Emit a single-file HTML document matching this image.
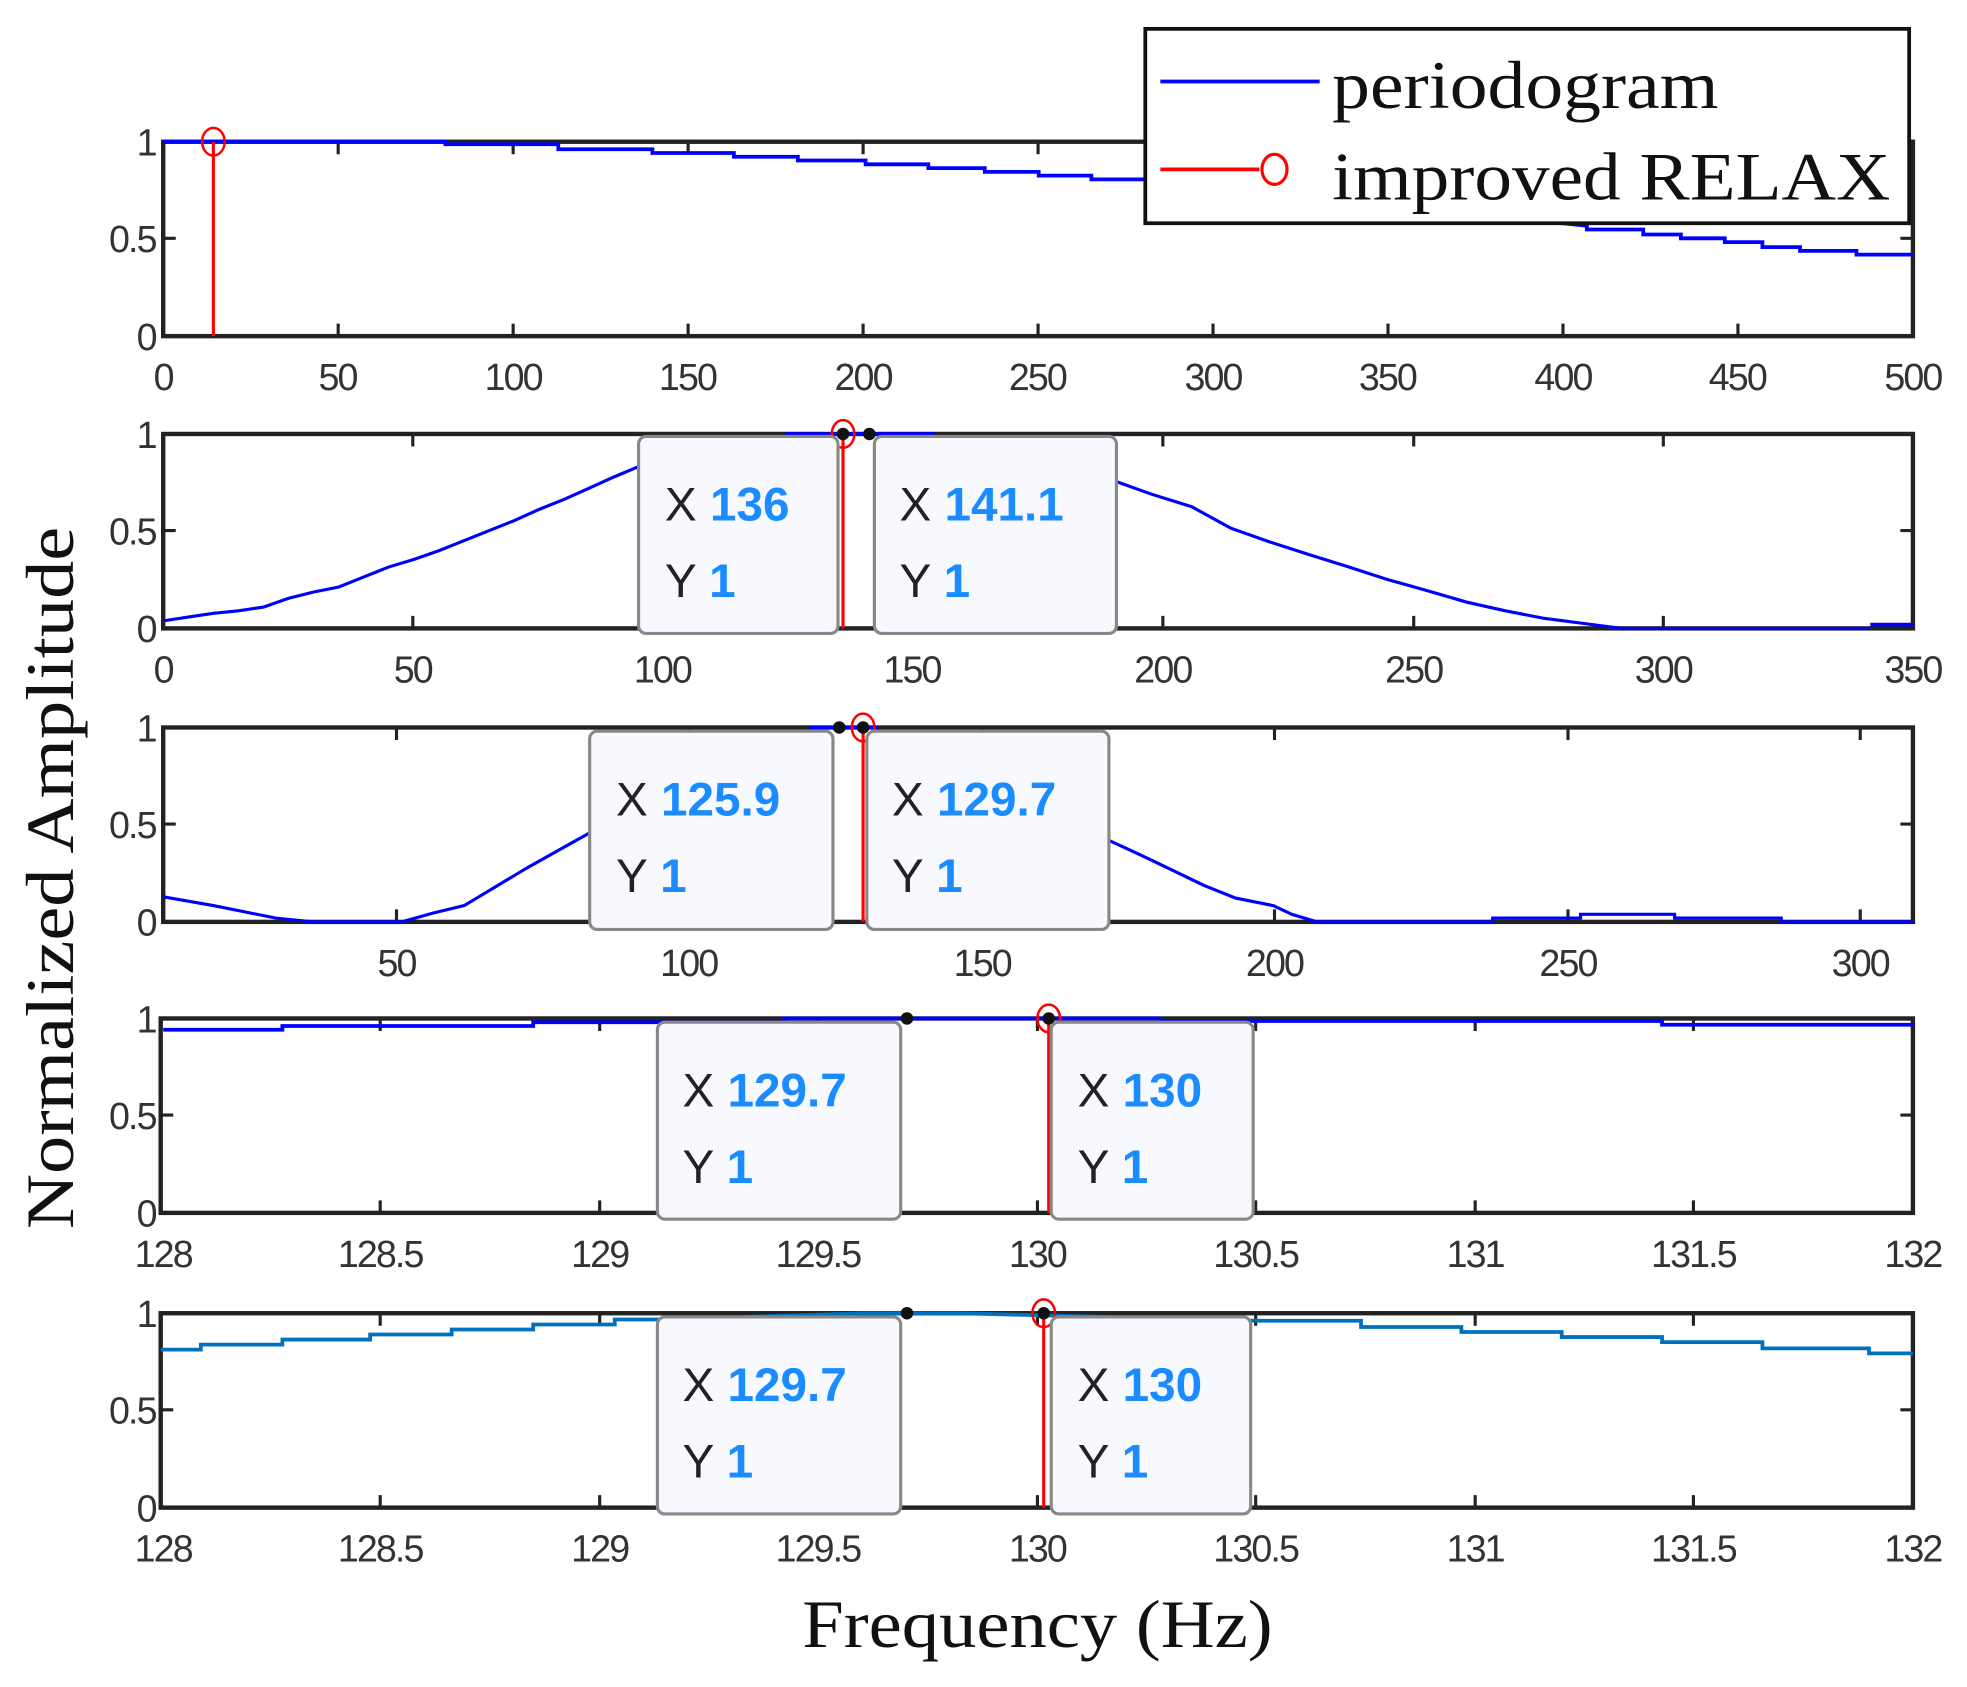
<!DOCTYPE html>
<html><head><meta charset="utf-8"><style>html,body{margin:0;padding:0;background:#fff}svg{display:block}</style></head>
<body>
<svg width="1967" height="1687" viewBox="0 0 1568 1345" xmlns="http://www.w3.org/2000/svg" font-family="Liberation Sans, sans-serif">
<rect width="1568" height="1345" fill="#fff"/>
<!-- axes -->
<g fill="none" stroke="#222" stroke-width="3.5">
<rect x="130" y="113" width="1395" height="155"/>
<rect x="130" y="346" width="1395" height="155"/>
<rect x="130" y="580" width="1395" height="155"/>
<rect x="128" y="812" width="1397" height="155"/>
<rect x="128" y="1047" width="1397" height="155"/>
</g>
<g stroke="#222" stroke-width="2.5">
<path d="M269.5,268v-10M409,268v-10M548.5,268v-10M688,268v-10M827.5,268v-10M967,268v-10M1106.5,268v-10M1246,268v-10M1385.5,268v-10M269.5,113v10M409,113v10M548.5,113v10M688,113v10M827.5,113v10M967,113v10M1106.5,113v10M1246,113v10M1385.5,113v10M130,190h10M1525,190h-10"/>
<path d="M329,501v-10M528,501v-10M727,501v-10M927,501v-10M1127,501v-10M1326,501v-10M329,346v10M528,346v10M727,346v10M927,346v10M1127,346v10M1326,346v10M130,423h10M1525,423h-10"/>
<path d="M316,735v-10M549,735v-10M783,735v-10M1016,735v-10M1250,735v-10M1483,735v-10M316,580v10M549,580v10M783,580v10M1016,580v10M1250,580v10M1483,580v10M130,657h10M1525,657h-10"/>
<path d="M303,967v-10M478,967v-10M652,967v-10M827,967v-10M1001,967v-10M1176,967v-10M1350,967v-10M303,812v10M478,812v10M652,812v10M827,812v10M1001,812v10M1176,812v10M1350,812v10M128,889h10M1525,889h-10"/>
<path d="M303,1202v-10M478,1202v-10M652,1202v-10M827,1202v-10M1001,1202v-10M1176,1202v-10M1350,1202v-10M303,1047v10M478,1047v10M652,1047v10M827,1047v10M1001,1047v10M1176,1047v10M1350,1047v10M128,1124h10M1525,1124h-10"/>
</g>
<g fill="none" stroke-linejoin="miter">
<!-- panel 1 series -->
<polyline stroke="#0000ff" stroke-width="3" points="130,113 355,113 355,115 445,115 445,119 520,119 520,122 585,122 585,125 636,125 636,128 690,128 690,131 740,131 740,134 785,134 785,137 828,137 828,140 870,140 870,143 912,143 1265,180 1265,183 1310,183 1310,187 1340,187 1340,190 1375,190 1375,193 1405,193 1405,197 1435,197 1435,200 1480,200 1480,203 1525,203"/>
<line x1="170" y1="113" x2="170" y2="268" stroke="#ff0000" stroke-width="2.5"/>
<ellipse cx="170" cy="113" rx="9" ry="11" stroke="#ff0000" stroke-width="2"/>
<!-- panel 2 -->
<polyline stroke="#0000ff" stroke-width="2.5" points="130,495 150,492 170,489 190,487 210,484 230,477 250,472 270,468 290,460 310,452 330,446 350,439 370,431 390,423 410,415 430,406 450,398 470,389 490,380 509,372"/>
<polyline stroke="#0000ff" stroke-width="3" points="626,346 745,346"/>
<polyline stroke="#0000ff" stroke-width="2.5" points="890,384 918,394 950,404 981,421 1012,432 1043,442 1075,452 1106,462 1138,471 1169,480 1200,487 1231,493 1262,497 1293,501 1491,501"/>
<polyline stroke="#0000ff" stroke-width="3" points="1491,498 1525,498"/>
<line x1="672" y1="346" x2="672" y2="501" stroke="#ff0000" stroke-width="2.5"/>
<ellipse cx="672" cy="346" rx="9" ry="11" stroke="#ff0000" stroke-width="2"/>
<!-- panel 3 -->
<polyline stroke="#0000ff" stroke-width="2.5" points="130,715 170,722 200,728 220,732 250,735 320,735 345,728 370,722 395,707 420,692 445,678 470,664"/>
<polyline stroke="#0000ff" stroke-width="3" points="645,580 700,580"/>
<polyline stroke="#0000ff" stroke-width="2.5" points="884,670 910,682 935,694 960,706 985,716 1015,722 1030,729 1050,735 1190,735 1190,732 1260,732 1260,729 1335,729 1335,732 1420,732 1420,735 1525,735"/>
<line x1="688" y1="580" x2="688" y2="735" stroke="#ff0000" stroke-width="2.5"/>
<ellipse cx="688" cy="580" rx="9" ry="11" stroke="#ff0000" stroke-width="2"/>
<!-- panel 4 -->
<polyline stroke="#0000ff" stroke-width="3" points="130,821 225,821 225,818 425,818 425,815 625,815 625,812 925,812 925,814 1325,814 1325,817 1525,817"/>
<line x1="836" y1="812" x2="836" y2="967" stroke="#ff0000" stroke-width="2.5"/>
<ellipse cx="836" cy="812" rx="9" ry="11" stroke="#ff0000" stroke-width="2"/>
<!-- panel 5 -->
<polyline stroke="#0072bd" stroke-width="3" points="128,1076 160,1076 160,1072 225,1072 225,1068 295,1068 295,1064 360,1064 360,1060 425,1060 425,1056 490,1056 490,1052 525,1052 690,1047 765,1047 1000,1053 1085,1053 1085,1058 1165,1058 1165,1062 1245,1062 1245,1066 1325,1066 1325,1070 1405,1070 1405,1075 1490,1075 1490,1079 1525,1079"/>
<line x1="832" y1="1047" x2="832" y2="1202" stroke="#ff0000" stroke-width="2.5"/>
<ellipse cx="832" cy="1047" rx="9" ry="11" stroke="#ff0000" stroke-width="2"/>
</g>
<!-- tick labels -->
<g font-size="30" fill="#333" text-anchor="middle" letter-spacing="-1.5">
<text x="130" y="311">0</text><text x="269" y="311">50</text><text x="409" y="311">100</text><text x="548" y="311">150</text><text x="688" y="311">200</text><text x="827" y="311">250</text><text x="967" y="311">300</text><text x="1106" y="311">350</text><text x="1246" y="311">400</text><text x="1385" y="311">450</text><text x="1525" y="311">500</text>
<text x="130" y="544">0</text><text x="329" y="544">50</text><text x="528" y="544">100</text><text x="727" y="544">150</text><text x="927" y="544">200</text><text x="1127" y="544">250</text><text x="1326" y="544">300</text><text x="1525" y="544">350</text>
<text x="316" y="778">50</text><text x="549" y="778">100</text><text x="783" y="778">150</text><text x="1016" y="778">200</text><text x="1250" y="778">250</text><text x="1483" y="778">300</text>
<text x="130" y="1010">128</text><text x="303" y="1010">128.5</text><text x="478" y="1010">129</text><text x="652" y="1010">129.5</text><text x="827" y="1010">130</text><text x="1001" y="1010">130.5</text><text x="1176" y="1010">131</text><text x="1350" y="1010">131.5</text><text x="1525" y="1010">132</text>
<text x="130" y="1245">128</text><text x="303" y="1245">128.5</text><text x="478" y="1245">129</text><text x="652" y="1245">129.5</text><text x="827" y="1245">130</text><text x="1001" y="1245">130.5</text><text x="1176" y="1245">131</text><text x="1350" y="1245">131.5</text><text x="1525" y="1245">132</text>
</g>
<g font-size="30" fill="#333" text-anchor="end" letter-spacing="-1.5">
<text x="124" y="124">1</text><text x="124" y="201">0.5</text><text x="124" y="279">0</text>
<text x="124" y="357">1</text><text x="124" y="434">0.5</text><text x="124" y="512">0</text>
<text x="124" y="591">1</text><text x="124" y="668">0.5</text><text x="124" y="746">0</text>
<text x="124" y="823">1</text><text x="124" y="900">0.5</text><text x="124" y="978">0</text>
<text x="124" y="1058">1</text><text x="124" y="1135">0.5</text><text x="124" y="1213">0</text>
</g>
<!-- datatip markers -->
<g fill="#111">
<circle cx="672" cy="346" r="5"/><circle cx="693" cy="346" r="5"/>
<circle cx="669" cy="580" r="5"/><circle cx="688" cy="580" r="5"/>
<circle cx="723" cy="812" r="5"/><circle cx="836" cy="812" r="5"/>
<circle cx="723" cy="1047" r="5"/><circle cx="832" cy="1047" r="5"/>
</g>
<!-- datatips -->
<g fill="#f8f8ff" stroke="#888" stroke-width="2.5">
<rect x="509" y="348" width="159" height="157" rx="6"/><rect x="697" y="348" width="193" height="157" rx="6"/>
<rect x="470" y="583" width="194" height="158" rx="6"/><rect x="691" y="583" width="193" height="158" rx="6"/>
<rect x="524" y="815" width="194" height="157" rx="6"/><rect x="838" y="815" width="161" height="157" rx="6"/>
<rect x="524" y="1050" width="194" height="157" rx="6"/><rect x="838" y="1050" width="159" height="157" rx="6"/>
</g>
<g font-size="38" fill="#222">
<text x="530" y="415">X <tspan fill="#1a8cff" font-weight="bold">136</tspan></text><text x="530" y="476">Y <tspan fill="#1a8cff" font-weight="bold">1</tspan></text>
<text x="717" y="415">X <tspan fill="#1a8cff" font-weight="bold">141.1</tspan></text><text x="717" y="476">Y <tspan fill="#1a8cff" font-weight="bold">1</tspan></text>
<text x="491" y="650">X <tspan fill="#1a8cff" font-weight="bold">125.9</tspan></text><text x="491" y="711">Y <tspan fill="#1a8cff" font-weight="bold">1</tspan></text>
<text x="711" y="650">X <tspan fill="#1a8cff" font-weight="bold">129.7</tspan></text><text x="711" y="711">Y <tspan fill="#1a8cff" font-weight="bold">1</tspan></text>
<text x="544" y="882">X <tspan fill="#1a8cff" font-weight="bold">129.7</tspan></text><text x="544" y="943">Y <tspan fill="#1a8cff" font-weight="bold">1</tspan></text>
<text x="859" y="882">X <tspan fill="#1a8cff" font-weight="bold">130</tspan></text><text x="859" y="943">Y <tspan fill="#1a8cff" font-weight="bold">1</tspan></text>
<text x="544" y="1117">X <tspan fill="#1a8cff" font-weight="bold">129.7</tspan></text><text x="544" y="1178">Y <tspan fill="#1a8cff" font-weight="bold">1</tspan></text>
<text x="859" y="1117">X <tspan fill="#1a8cff" font-weight="bold">130</tspan></text><text x="859" y="1178">Y <tspan fill="#1a8cff" font-weight="bold">1</tspan></text>
</g>
<!-- legend -->
<rect x="913" y="23" width="609" height="155" fill="#fff" stroke="#111" stroke-width="3"/>
<line x1="925" y1="65" x2="1052" y2="65" stroke="#0000ff" stroke-width="3"/>
<line x1="925" y1="135" x2="1004" y2="135" stroke="#ff0000" stroke-width="3"/>
<ellipse cx="1016" cy="135" rx="10" ry="12" fill="none" stroke="#ff0000" stroke-width="2.5"/>
<g font-family="Liberation Serif, serif" font-size="54" fill="#111">
<text x="1062" y="86" textLength="308" lengthAdjust="spacingAndGlyphs">periodogram</text>
<text x="1062" y="159" textLength="445" lengthAdjust="spacingAndGlyphs">improved RELAX</text>
<text x="827" y="1313" text-anchor="middle" textLength="375" lengthAdjust="spacingAndGlyphs">Frequency (Hz)</text>
<text transform="translate(58,700) rotate(-90)" text-anchor="middle" textLength="560" lengthAdjust="spacingAndGlyphs">Normalized Amplitude</text>
</g>
</svg>
</body></html>
